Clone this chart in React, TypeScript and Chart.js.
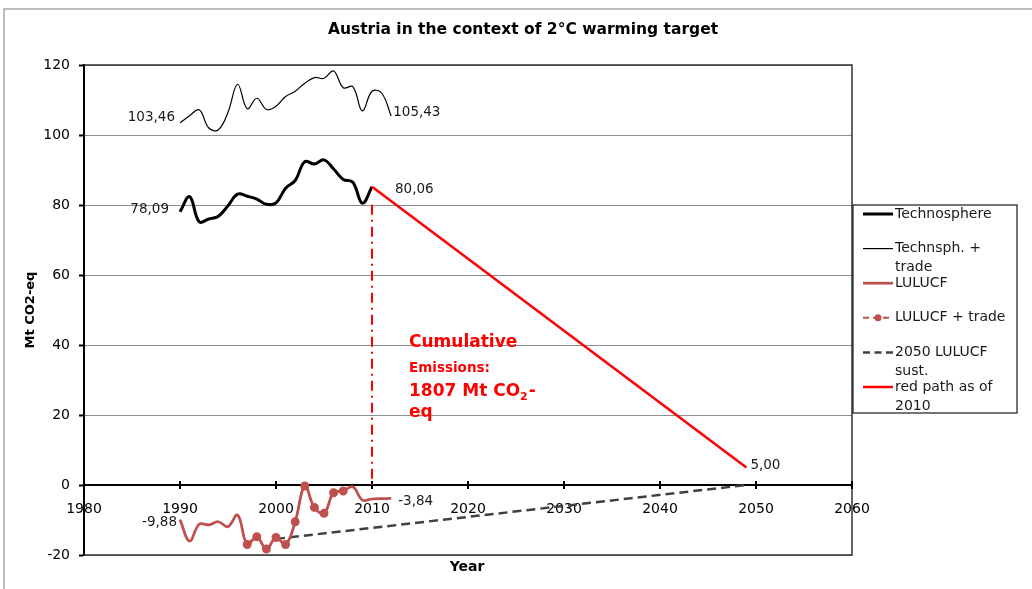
import React, { useEffect, useRef } from 'react';
import { Chart, registerables } from 'chart.js';

Chart.register(...registerables);

const FONT = '"DejaVu Sans", "Liberation Sans", sans-serif';

const chartTitle = 'Austria in the context of 2°C warming target';
const xAxisTitle = 'Year';
const yAxisTitle = 'Mt CO2-eq';

// X tick labels and Y ticks
const xTickValues = [1980, 1990, 2000, 2010, 2020, 2030, 2040, 2050, 2060];
const xTickLabels = ['1980', '1990', '2000', '2010', '2020', '2030', '2040', '2050', '2060'];
const yTickValues = [-20, 0, 20, 40, 60, 80, 100, 120];

// Technosphere 1990-2010
const technosphereYears = [1990, 1991, 1992, 1993, 1994, 1995, 1996, 1997, 1998, 1999, 2000, 2001, 2002, 2003, 2004, 2005, 2006, 2007, 2008, 2009, 2010];
const technosphere = [78.09, 82.4, 75.2, 76.0, 76.8, 79.8, 83.1, 82.5, 81.7, 80.2, 80.6, 84.8, 87.0, 92.4, 91.7, 92.9, 90.3, 87.3, 86.5, 80.5, 85.2];

// Technsph. + trade 1990-2012
const tradeYears = [1990, 1991, 1992, 1993, 1994, 1995, 1996, 1997, 1998, 1999, 2000, 2001, 2002, 2003, 2004, 2005, 2006, 2007, 2008, 2009, 2010, 2011, 2012];
const technTrade = [103.46, 105.5, 107.2, 102.0, 101.5, 106.5, 114.5, 107.5, 110.5, 107.3, 108.2, 111.0, 112.5, 114.8, 116.4, 116.2, 118.3, 113.5, 113.8, 106.9, 112.5, 112.0, 105.43];

// LULUCF 1990-2012
const lulucfYears = [1990, 1991, 1992, 1993, 1994, 1995, 1996, 1997, 1998, 1999, 2000, 2001, 2002, 2003, 2004, 2005, 2006, 2007, 2008, 2009, 2010, 2011, 2012];
const lulucf = [-9.88, -16.0, -11.2, -11.4, -10.5, -11.9, -8.6, -17.0, -14.8, -18.3, -15.0, -17.0, -10.5, -0.3, -6.4, -8.1, -2.2, -1.7, -0.5, -4.3, -4.0, -3.9, -3.84];

// LULUCF + trade 1997-2007
const lulucfTradeYears = [1997, 1998, 1999, 2000, 2001, 2002, 2003, 2004, 2005, 2006, 2007];
const lulucfTrade = [-17.0, -14.8, -18.3, -15.0, -17.0, -10.5, -0.3, -6.4, -8.1, -2.2, -1.7];

// 2050 LULUCF sustainable
const sustYears = [2000, 2049];
const sustValues = [-15.4, 0];

// red path as of 2010
const redPathYears = [2010, 2049];
const redPathValues = [85.2, 5.0];

// vertical marker at 2010
const markerYears = [2010, 2010];
const markerValues = [80.06, 0];

// data labels: [dataset index, point index, text]
const labelDatasets = [1, 1, 0, 5, 2, 2, 5];
const labelPoints = [0, 22, 0, 0, 0, 22, 1];
const labelTexts = ['103,46', '105,43', '78,09', '80,06', '-9,88', '-3,84', '5,00'];
const labelSides = ['left', 'right', 'left', 'right', 'left', 'right', 'right'];
const labelDx = [-5, 2, -11, 23, -3, 7, 4];
const labelDy = [-5, -3, -2, 3, 3, 3, -2];

const cumLine1 = 'Cumulative';
const cumLine2 = 'Emissions:';
const cumLine3a = '1807 Mt CO';
const cumLine3sub = '2';
const cumLine3b = '-';
const cumLine4 = 'eq';

const pts = (xs: number[], ys: number[]) => ys.map((y, i) => ({ x: xs[i], y }));

function wrapText(ctx: CanvasRenderingContext2D, text: string, maxW: number): string[] {
  const words = text.split(' ');
  const lines: string[] = [];
  let cur = '';
  for (const w of words) {
    const t = cur ? cur + ' ' + w : w;
    if (ctx.measureText(t).width > maxW && cur) {
      lines.push(cur);
      cur = w;
    } else cur = t;
  }
  if (cur) lines.push(cur);
  return lines;
}

const overlay = {
  id: 'overlay',
  beforeDraw(chart: any) {
    const ctx = chart.ctx as CanvasRenderingContext2D;
    ctx.save();
    ctx.fillStyle = '#fff';
    ctx.fillRect(0, 0, chart.width, chart.height);
    ctx.strokeStyle = '#a6a6a6';
    ctx.lineWidth = 1.5;
    ctx.beginPath();
    ctx.moveTo(4, chart.height);
    ctx.lineTo(4, 9);
    ctx.lineTo(chart.width, 9);
    ctx.stroke();
    ctx.restore();
  },
  beforeDatasetsDraw(chart: any) {
    const ctx = chart.ctx as CanvasRenderingContext2D;
    const { left, right, top, bottom } = chart.chartArea;
    const xs = chart.scales.x;
    const ys = chart.scales.y;
    ctx.save();
    ctx.strokeStyle = '#333';
    ctx.lineWidth = 1.5;
    ctx.beginPath();
    ctx.moveTo(left, top);
    ctx.lineTo(right, top);
    ctx.lineTo(right, bottom);
    ctx.lineTo(left, bottom);
    ctx.stroke();
    // crossing ticks on x axis
    const y0 = ys.getPixelForValue(0);
    ctx.strokeStyle = '#000';
    ctx.lineWidth = 2;
    for (const v of xTickValues) {
      const px = xs.getPixelForValue(v);
      ctx.beginPath();
      ctx.moveTo(px, y0 - 4);
      ctx.lineTo(px, y0 + 4);
      ctx.stroke();
    }
    ctx.restore();
  },
  afterDraw(chart: any) {
    const ctx = chart.ctx as CanvasRenderingContext2D;
    const xs = chart.scales.x;
    const ys = chart.scales.y;
    ctx.save();
    // title
    ctx.fillStyle = '#000';
    ctx.font = `bold 15.5px ${FONT}`;
    ctx.textAlign = 'center';
    ctx.textBaseline = 'middle';
    ctx.fillText(chartTitle, 523, 30);
    // x title
    ctx.font = `bold 14px ${FONT}`;
    ctx.fillText(xAxisTitle, 467, 567);
    // y title
    ctx.save();
    ctx.translate(31, 310);
    ctx.rotate(-Math.PI / 2);
    ctx.font = `bold 13px ${FONT}`;
    ctx.fillText(yAxisTitle, 0, 0);
    ctx.restore();

    // data labels
    ctx.font = `13.5px ${FONT}`;
    ctx.fillStyle = '#1a1a1a';
    labelTexts.forEach((t, i) => {
      const ds = chart.data.datasets[labelDatasets[i]];
      const p = ds.data[labelPoints[i]];
      const px = xs.getPixelForValue(p.x) + labelDx[i];
      const py = ys.getPixelForValue(p.y) + labelDy[i];
      ctx.textAlign = labelSides[i] === 'left' ? 'right' : 'left';
      ctx.fillText(t, px, py);
    });

    // cumulative emissions annotation
    const ax = xs.getPixelForValue(2010) + 37;
    ctx.fillStyle = '#ff0000';
    ctx.textAlign = 'left';
    ctx.textBaseline = 'alphabetic';
    ctx.font = `bold 17px ${FONT}`;
    ctx.fillText(cumLine1, ax, 347);
    ctx.font = `bold 13.5px ${FONT}`;
    ctx.fillText(cumLine2, ax, 372);
    ctx.font = `bold 17px ${FONT}`;
    ctx.fillText(cumLine3a, ax, 396);
    let w = ctx.measureText(cumLine3a).width;
    ctx.font = `bold 11px ${FONT}`;
    ctx.fillText(cumLine3sub, ax + w, 400);
    w += ctx.measureText(cumLine3sub).width;
    ctx.font = `bold 17px ${FONT}`;
    ctx.fillText(cumLine3b, ax + w + 1, 396);
    ctx.fillText(cumLine4, ax, 417);

    // legend
    const bx = 853, by = 205, bw = 164, bh = 208;
    ctx.fillStyle = '#fff';
    ctx.fillRect(bx, by, bw, bh);
    ctx.strokeStyle = '#1a1a1a';
    ctx.lineWidth = 1.2;
    ctx.strokeRect(bx, by, bw, bh);
    ctx.font = `14px ${FONT}`;
    ctx.textBaseline = 'middle';
    const items = chart.data.datasets.filter((d: any) => d.label);
    items.forEach((ds: any, i: number) => {
      const cy = 214 + i * 34.6;
      ctx.save();
      ctx.strokeStyle = ds.borderColor;
      ctx.lineWidth = ds.borderWidth;
      ctx.setLineDash(ds.legendDash || ds.borderDash || []);
      ctx.beginPath();
      ctx.moveTo(863, cy);
      ctx.lineTo(893, cy);
      ctx.stroke();
      ctx.restore();
      if (ds.pointRadius > 0) {
        ctx.fillStyle = ds.pointBackgroundColor;
        ctx.beginPath();
        ctx.arc(878, cy, ds.pointRadius, 0, Math.PI * 2);
        ctx.fill();
      }
      ctx.fillStyle = '#1a1a1a';
      ctx.textAlign = 'left';
      const lines = wrapText(ctx, ds.label, 118);
      lines.forEach((ln, j) => ctx.fillText(ln, 895, cy + j * 19));
    });
    ctx.restore();
  },
};

export default function App() {
  const ref = useRef<HTMLCanvasElement>(null);
  useEffect(() => {
    const canvas = ref.current!;
    Chart.defaults.font.family = FONT;
    const chart = new Chart(canvas, {
      type: 'line',
      data: {
        datasets: [
          {
            label: 'Technosphere',
            data: pts(technosphereYears, technosphere),
            borderColor: '#000',
            borderWidth: 3,
            pointRadius: 0,
            tension: 0.4,
            order: 2,
          } as any,
          {
            label: 'Technsph. + trade',
            data: pts(tradeYears, technTrade),
            borderColor: '#000',
            borderWidth: 1.2,
            pointRadius: 0,
            tension: 0.4,
            order: 3,
          },
          {
            label: 'LULUCF',
            data: pts(lulucfYears, lulucf),
            borderColor: '#C0504D',
            borderWidth: 2.75,
            pointRadius: 0,
            tension: 0.4,
            order: 4,
          },
          {
            label: 'LULUCF + trade',
            data: pts(lulucfTradeYears, lulucfTrade),
            borderColor: '#C0504D',
            borderWidth: 2,
            borderDash: [6, 4],
            pointRadius: 3.5,
            pointBackgroundColor: '#C0504D',
            pointBorderColor: '#C0504D',
            tension: 0.4,
            order: 1,
          },
          {
            label: '2050 LULUCF sust.',
            data: pts(sustYears, sustValues),
            borderColor: '#404040',
            borderWidth: 2.5,
            borderDash: [9, 5],
            legendDash: [7, 4.5],
            pointRadius: 0,
            tension: 0,
            order: 5,
          } as any,
          {
            label: 'red path as of 2010',
            data: pts(redPathYears, redPathValues),
            borderColor: '#FF0000',
            borderWidth: 2.5,
            pointRadius: 0,
            tension: 0,
            order: 0,
          },
          {
            label: '',
            data: pts(markerYears, markerValues),
            borderColor: '#FF0000',
            borderWidth: 2,
            borderDash: [10, 5, 2, 5],
            pointRadius: 0,
            tension: 0,
            order: 0,
          },
        ],
      },
      options: {
        animation: false,
        responsive: false,
        events: [],
        layout: { padding: { left: 0, top: 65, right: 180, bottom: 34 } },
        plugins: {
          legend: { display: false },
          title: { display: false },
          tooltip: { enabled: false },
        },
        scales: {
          x: {
            type: 'linear',
            position: { y: 0 } as any,
            min: 1980,
            max: 2060,
            afterBuildTicks: (s: any) => {
              s.ticks = xTickValues.map((v) => ({ value: v }));
            },
            ticks: {
              callback: (v: any) => {
                const i = xTickValues.indexOf(Number(v));
                return i >= 0 ? xTickLabels[i] : '';
              },
              color: '#000',
              font: { size: 14, family: FONT },
              padding: 16,
              maxRotation: 0,
              autoSkip: false,
            },
            grid: { display: true, drawOnChartArea: false, drawTicks: false },
            border: { color: '#000', width: 2 },
          },
          y: {
            type: 'linear',
            min: -20,
            max: 120,
            afterBuildTicks: (s: any) => {
              s.ticks = yTickValues.map((v) => ({ value: v }));
            },
            afterFit: (s: any) => {
              s.width = 84;
            },
            ticks: {
              color: '#000',
              font: { size: 14, family: FONT },
              padding: 9,
            },
            grid: {
              color: '#8c8c8c',
              lineWidth: 1,
              tickColor: '#000',
              tickLength: 5,
              tickWidth: 2,
            } as any,
            border: { color: '#000', width: 2 },
          },
        },
      },
      plugins: [overlay],
    });
    return () => chart.destroy();
  }, []);
  return (
    <div style={{ position: 'fixed', left: 0, top: 0, width: 1032, height: 589, background: '#fff' }}>
      <canvas ref={ref} width={1032} height={589} style={{ display: 'block', width: 1032, height: 589 }} />
    </div>
  );
}
